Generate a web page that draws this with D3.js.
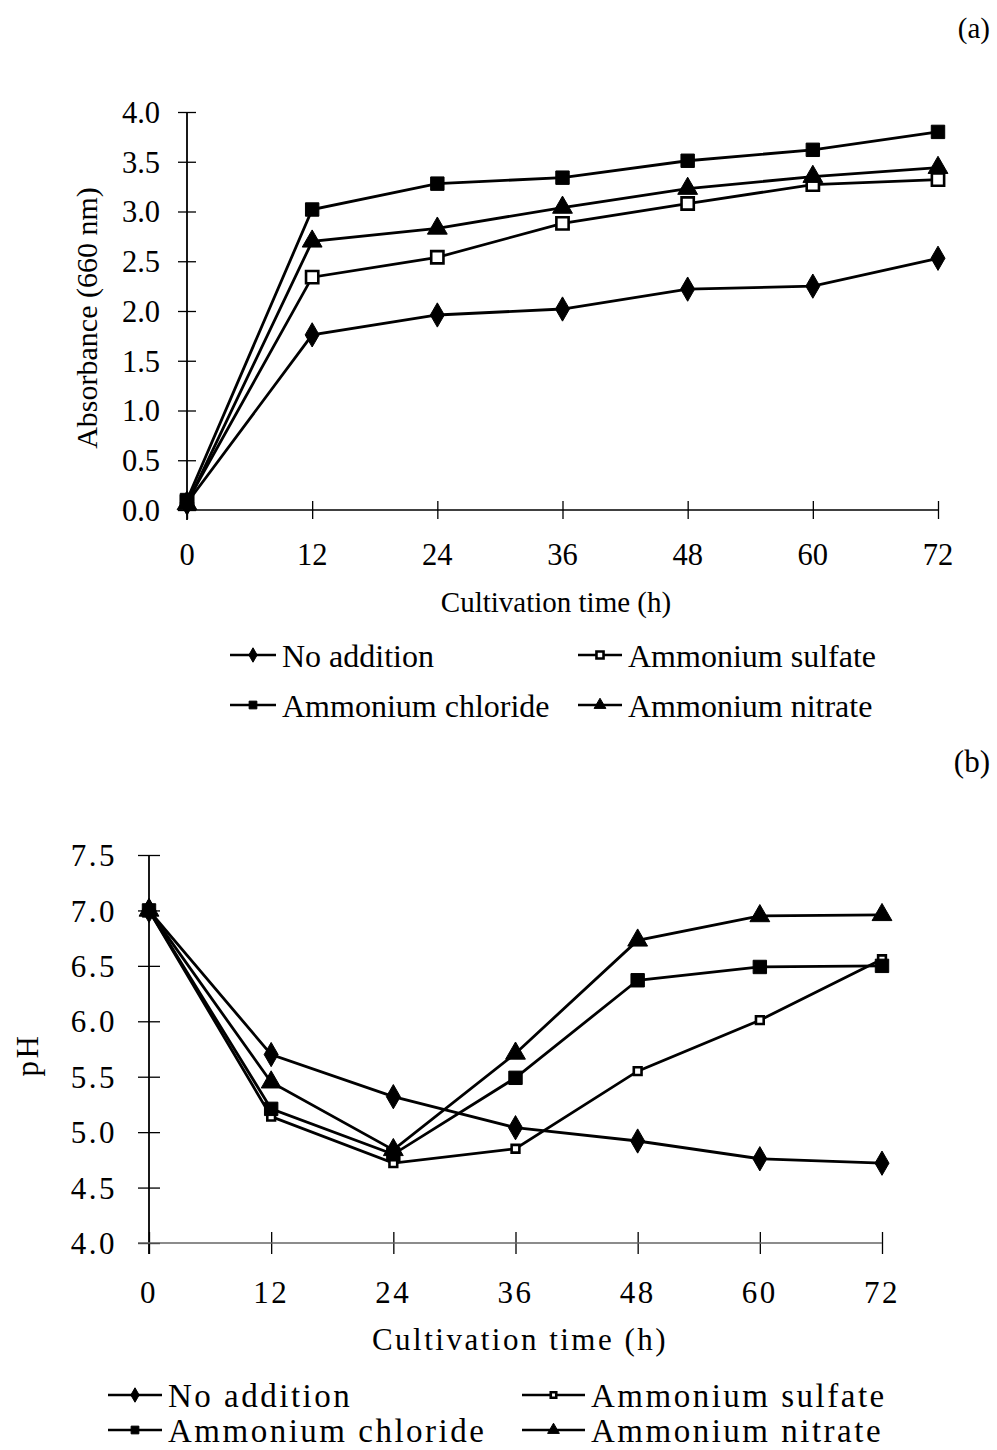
<!DOCTYPE html>
<html><head><meta charset="utf-8">
<script src="https://cdn.jsdelivr.net/npm/d3@7"></script>
<style>body{margin:0;background:#fff}svg{display:block}text{font-family:"Liberation Serif","Times New Roman",serif;fill:#000}</style>
</head><body>
<svg id="c" width="997" height="1450"></svg>
<script>
const times = [0, 12, 24, 36, 48, 60, 72];
const seriesNames = ["No addition", "Ammonium sulfate", "Ammonium chloride", "Ammonium nitrate"];
// Panel (a) absorbance (660 nm)
const absNoAddition = [0.07, 1.76, 1.96, 2.02, 2.22, 2.25, 2.53];
const absSulfate    = [0.08, 2.34, 2.54, 2.88, 3.08, 3.27, 3.32];
const absChloride   = [0.10, 3.02, 3.28, 3.34, 3.51, 3.62, 3.80];
const absNitrate    = [0.06, 2.70, 2.83, 3.04, 3.23, 3.35, 3.44];
// Panel (b) pH
const phNoAddition = [7.0, 5.70, 5.32, 5.04, 4.92, 4.76, 4.72];
const phSulfate    = [7.0, 5.14, 4.72, 4.85, 5.55, 6.01, 6.56];
const phChloride   = [7.0, 5.21, 4.80, 5.49, 6.37, 6.49, 6.50];
const phNitrate    = [7.0, 5.45, 4.84, 5.71, 6.73, 6.95, 6.96];
const absTicks = [0, 0.5, 1.0, 1.5, 2.0, 2.5, 3.0, 3.5, 4.0];
const phTicks = [4.0, 4.5, 5.0, 5.5, 6.0, 6.5, 7.0, 7.5];

const svg = d3.select("#c");
const markerTypes = [d3.symbolDiamond, d3.symbolSquare, d3.symbolSquare, d3.symbolTriangle];
const markerFill = ["#000", "#fff", "#000", "#000"];

function drawMarker(g, i, x, y, big, panel) {
  let size;
  if (i === 0) size = big ? 170 : 60;
  else if (i === 1) size = big ? (panel === "a" ? 150 : 60) : (panel === "a" ? 50 : 30);
  else if (i === 2) size = big ? 180 : 60;
  else size = big ? 170 : 60;
  g.append("path")
    .attr("d", d3.symbol().type(markerTypes[i]).size(size)())
    .attr("transform", `translate(${x},${y})`)
    .attr("fill", markerFill[i])
    .attr("stroke", "#000")
    .attr("stroke-width", i === 1 ? 2.6 : 1);
}

function panel(cfg) {
  const g = svg.append("g");
  const x = d3.scaleLinear().domain([0, 72]).range(cfg.xr);
  const y = d3.scaleLinear().domain(cfg.yd).range(cfg.yr);
  const fs = cfg.fs;
  // y axis
  const ya = g.append("g").attr("transform", `translate(${cfg.xr[0]},0)`)
    .call(d3.axisLeft(y).tickValues(cfg.yticks).tickSize(cfg.tick).tickFormat(d3.format(".1f")));
  ya.select(".domain").remove();
  ya.selectAll(".tick line").attr("x1", -cfg.tick).attr("x2", cfg.tick).attr("stroke", "#000").attr("stroke-width", 1.3);
  ya.selectAll(".tick text").remove();
  g.append("line").attr("x1", cfg.xr[0]).attr("x2", cfg.xr[0]).attr("y1", cfg.yr[1]).attr("y2", cfg.yr[0] + cfg.yext)
    .attr("stroke", "#000").attr("stroke-width", 1.8);
  g.selectAll(".ylab").data(cfg.yticks).enter().append("text")
    .attr("x", cfg.ylabX).attr("y", d => y(d)).attr("dy", "0.36em")
    .attr("text-anchor", "end").attr("font-size", cfg.tfs).attr("letter-spacing", cfg.ls)
    .text(d => d3.format(".1f")(d));
  // x axis
  const xa = g.append("g").attr("transform", `translate(0,${cfg.yr[0]})`)
    .call(d3.axisBottom(x).tickValues(times).tickSize(cfg.tick));
  xa.select(".domain").remove();
  xa.selectAll(".tick line").attr("y1", -cfg.tick).attr("y2", cfg.tick).attr("stroke", "#000").attr("stroke-width", 1.3);
  xa.selectAll(".tick text").remove();
  g.append("line").attr("x1", cfg.xr[0] - cfg.xext).attr("x2", cfg.xr[1]).attr("y1", cfg.yr[0]).attr("y2", cfg.yr[0])
    .attr("stroke", cfg.xcol).attr("stroke-width", 1.6);
  g.selectAll(".xlab").data(times).enter().append("text")
    .attr("x", d => x(d)).attr("y", cfg.xlabY).attr("text-anchor", "middle")
    .attr("font-size", cfg.tfs).attr("letter-spacing", cfg.ls).text(d => d);
  // titles
  g.append("text").attr("x", cfg.xtitle[0]).attr("y", cfg.xtitle[1]).attr("text-anchor", "middle")
    .attr("font-size", fs).attr("letter-spacing", cfg.ls).text("Cultivation time (h)");
  g.append("text").attr("transform", `translate(${cfg.ytitle[0]},${cfg.ytitle[1]}) rotate(-90)`)
    .attr("text-anchor", "middle").attr("font-size", cfg.yfs).attr("letter-spacing", cfg.ls).text(cfg.ylabel);
  g.append("text").attr("x", 990).attr("y", cfg.tagY).attr("text-anchor", "end").attr("font-size", fs).text(cfg.tag);
  // series
  const line = d3.line().x((d, i) => x(times[i])).y(d => y(d));
  const order = [0, 1, 3, 2];
  order.forEach(i => {
    g.append("path").attr("d", line(cfg.series[i])).attr("fill", "none")
      .attr("stroke", "#000").attr("stroke-width", 2.8);
  });
  order.forEach(i => {
    cfg.series[i].forEach((v, k) => drawMarker(g, i, x(times[k]), y(v), true, cfg.id));
  });
  // legend
  seriesNames.forEach((name, i) => {
    const col = i === 0 || i === 2 ? 0 : 1;
    const row = i < 2 ? 0 : 1;
    const lx = cfg.leg.cols[col], ly = cfg.leg.rows[row], w = cfg.leg.w[col];
    g.append("line").attr("x1", lx).attr("x2", lx + w).attr("y1", ly).attr("y2", ly)
      .attr("stroke", "#000").attr("stroke-width", 2.6);
    drawMarker(g, i, lx + w / 2, ly, false, cfg.id);
    g.append("text").attr("x", lx + w + 6).attr("y", ly).attr("dy", "0.36em")
      .attr("font-size", cfg.leg.fs).attr("letter-spacing", cfg.ls).text(name);
  });
}

panel({
  id: "a", xr: [187, 938], yd: [0, 4], yr: [510, 112], yticks: absTicks, tick: 9, yext: 10, xext: 0, xcol: "#000",
  fs: 29, tfs: 30.5, yfs: 30, ls: 0, ylabX: 160, xlabY: 565, xtitle: [556, 612], ytitle: [97, 318], ylabel: "Absorbance (660 nm)",
  tag: "(a)", tagY: 38,
  series: [absNoAddition, absSulfate, absChloride, absNitrate],
  leg: { cols: [230, 578], rows: [655, 705], w: [46, 44], fs: 32 }
});
panel({
  id: "b", xr: [149, 882], yd: [4, 7.5], yr: [1243, 855], yticks: phTicks, tick: 11, yext: 11, xext: 11, xcol: "#666",
  fs: 31, tfs: 31, yfs: 31, ls: 2.5, ylabX: 117, xlabY: 1303, xtitle: [520, 1350], ytitle: [38, 1055], ylabel: "pH",
  tag: "(b)", tagY: 772,
  series: [phNoAddition, phSulfate, phChloride, phNitrate],
  leg: { cols: [108, 522], rows: [1395, 1430], w: [54, 63], fs: 33 }
});
</script>
</body></html>
